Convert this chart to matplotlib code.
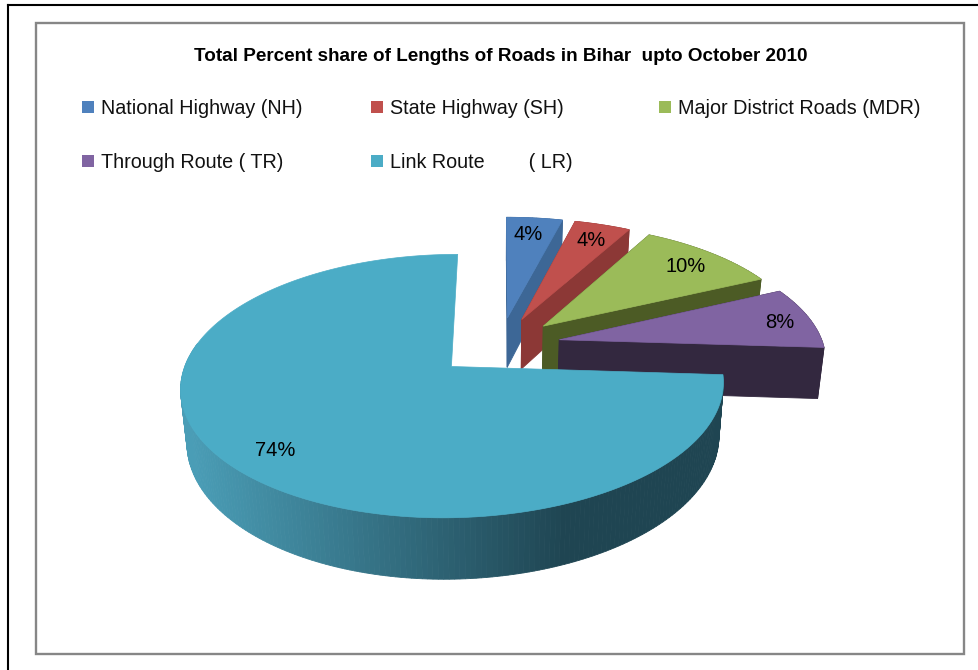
#!/usr/bin/env python3

import numpy as np
import matplotlib
matplotlib.use("Agg")
import matplotlib.pyplot as plt
from matplotlib.patches import Polygon, Rectangle

title = "Total Percent share of Lengths of Roads in Bihar  upto October 2010"
labels = ["National Highway (NH)", "State Highway (SH)", "Major District Roads (MDR)",
          "Through Route ( TR)", "Link Route        ( LR)"]
shares = [4, 4, 10, 8, 74]
explode = [0.23, 0.23, 0.23, 0.23, 0.25]

top_colors = ["#4F81BD", "#C0504D", "#9BBB59", "#8064A2", "#4BACC6"]
side_colors = ["#3D6796", "#8C3836", "#4C5B25", "#33283F", "#1F4552"]

plt.rcParams["font.family"] = ["Liberation Sans", "DejaVu Sans"]

# tilted pie, all numbers in pixels of the picture
CX, CY = 500, 345
RX_R, RX_L, RY = 264, 260, 122.5
PERSP = 0.145
DEPTH = 51
WALL_SHRINK = 0.98


def project(u, v):
    w = 1 + PERSP * v
    x = u / w
    x = CX + np.where(x > 0, RX_R, RX_L) * x
    y = CY - RY * v / w
    return x, y


def lower(x, v):
    # same outline pushed down to the bottom of the pie
    return CX + (x - CX) * WALL_SHRINK, DEPTH / (1 + PERSP * v)


def wall_color(xm, base):
    # link route wall goes from light on the left to dark on the right
    t = np.clip((xm - 190) / (565 - 190), 0, 1)
    light = np.array(matplotlib.colors.to_rgb("#4A9DB6"))
    dark = np.array(matplotlib.colors.to_rgb(base))
    return tuple(light + (dark - light) * t)


fig = plt.figure(figsize=(9.79, 6.70), dpi=100)
ax = fig.add_axes([0, 0, 1, 1])
ax.set_xlim(0, 979)
ax.set_ylim(670, 0)
ax.axis("off")

# page frame and chart frame
ax.plot([8, 8], [670, 4.5], color="black", lw=1.5, solid_capstyle="projecting")
ax.plot([8, 979], [4.5, 4.5], color="black", lw=1.5)
ax.add_patch(Rectangle((36, 23), 928, 631, fill=False, ec="#868686", lw=1.7))

ax.text(500.5, 56.5, title, ha="center", va="center", fontsize=13.6, fontweight="bold", color="black")

legend_x = [82, 371, 659, 82, 371]
legend_y = [107, 107, 107, 161, 161]
for lab, col, lx, ly in zip(labels, top_colors, legend_x, legend_y):
    ax.add_patch(Rectangle((lx, ly - 6), 12, 12, fc=col, ec="none"))
    ax.text(lx + 19, ly + 2, lab, ha="left", va="center", fontsize=14.2, color="#111111")

fractions = np.array(shares) / sum(shares)
edges = np.concatenate([[0], np.cumsum(fractions)]) * 2 * np.pi

for i in range(len(shares)):
    a0, a1 = edges[i], edges[i + 1]
    mid = (a0 + a1) / 2
    ox, oy = explode[i] * np.sin(mid), explode[i] * np.cos(mid)
    ang = np.linspace(a0, a1, max(12, int(np.degrees(a1 - a0))))
    u = np.concatenate([[ox], ox + np.sin(ang)])
    v = np.concatenate([[oy], oy + np.cos(ang)])
    x, y = project(u, v)
    xb, d = lower(x, v)
    yb = y + d
    n = len(x)
    big = shares[i] == max(shares)
    for j in range(n):
        k = (j + 1) % n
        # back of the big slice never shows
        if big and (j == 0 or k == 0 or v[j] > 0):
            continue
        col = side_colors[i]
        if big:
            col = wall_color((x[j] + x[k]) / 2, side_colors[i])
        ax.add_patch(Polygon([(x[j], y[j]), (x[k], y[k]), (xb[k], yb[k]), (xb[j], yb[j])],
                             fc=col, ec=col, lw=0.6))
    ax.add_patch(Polygon(np.column_stack([x, y]), fc=top_colors[i], ec=top_colors[i], lw=0.5))

# percent labels go on top of everything
label_x = [528, 591, 686, 780, 275]
label_y = [235, 240, 266, 323, 450]
for s, lx, ly in zip(shares, label_x, label_y):
    ax.text(lx, ly, "%d%%" % s, ha="center", va="center", fontsize=14.5, color="black")

fig.savefig("out.png", dpi=100)
plt.close(fig)
